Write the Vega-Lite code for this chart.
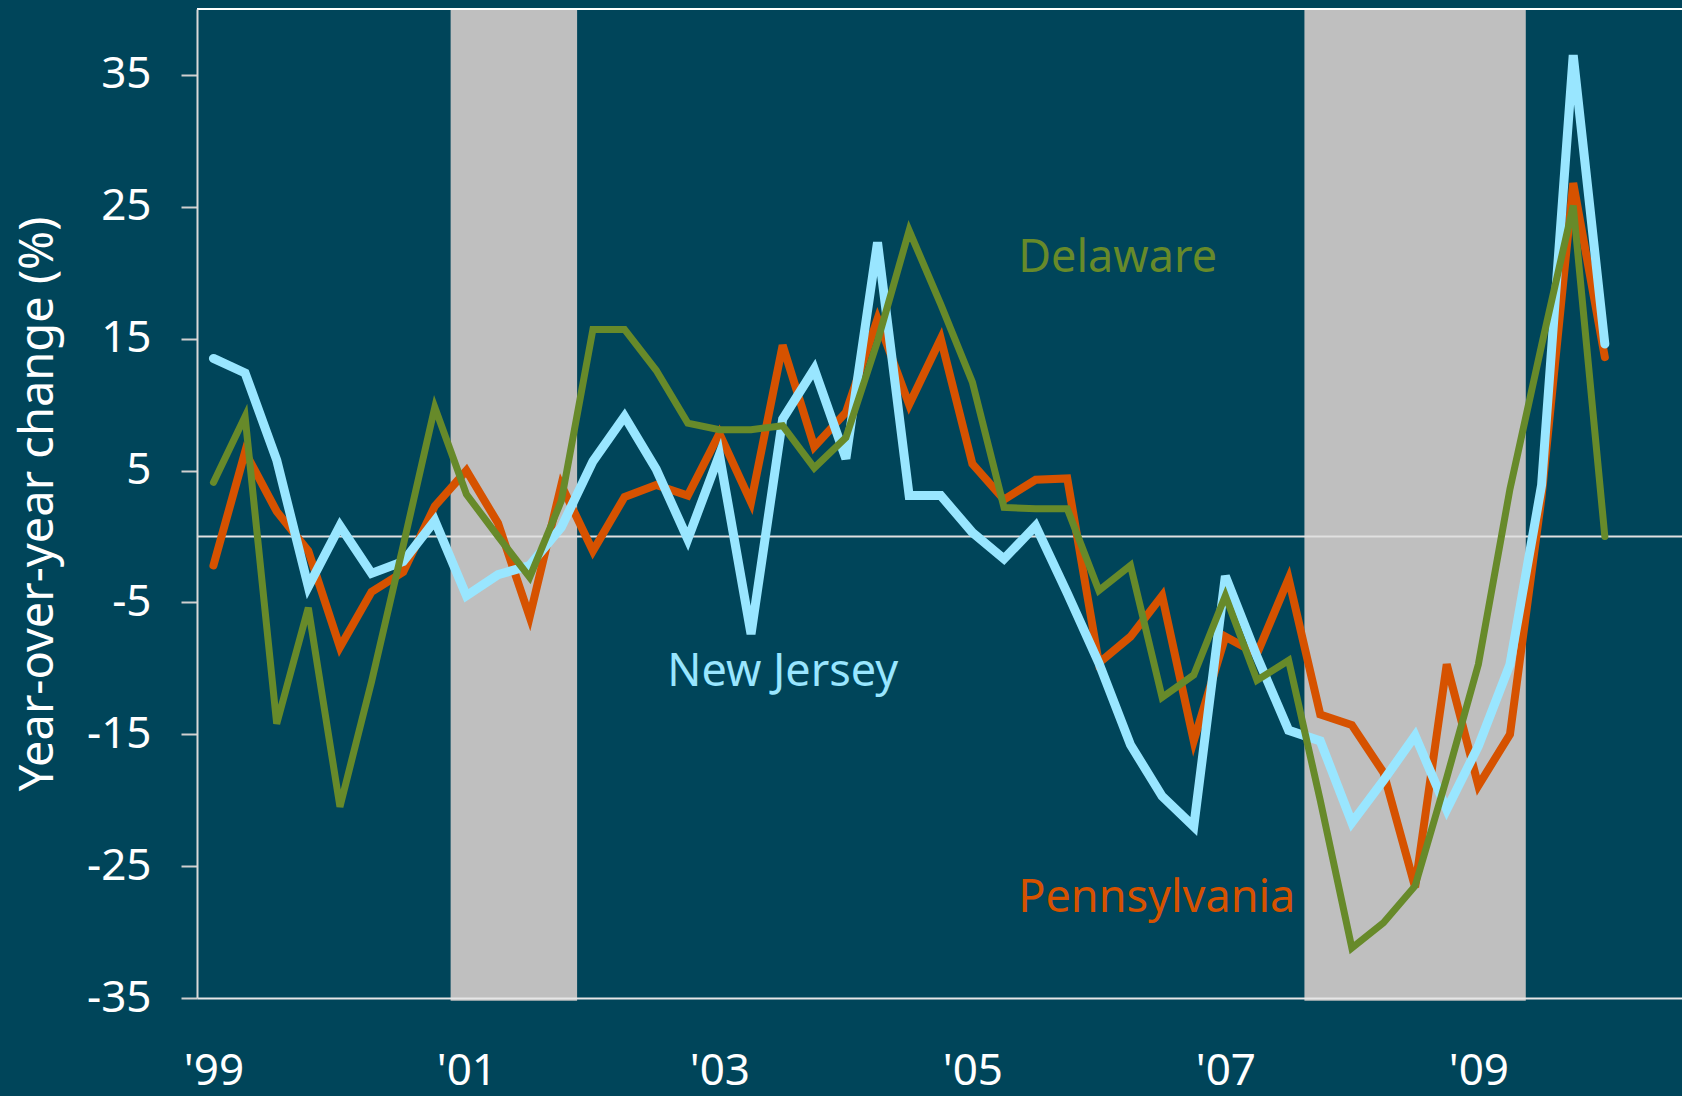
{
  "$schema": "https://vega.github.io/schema/vega-lite/v6.json",
  "autosize": {"type": "none"},
  "padding": {"left": 197, "top": 9, "right": 0, "bottom": 98},
  "width": 1485,
  "height": 989,
  "background": "#00455A",
  "config": {"view": {"stroke": null}, "font": "Noto Sans"},
  "datasets": {
    "series": [
      {"q": 0, "nj": 13.5, "pa": -2.2, "de": 4.1},
      {"q": 1, "nj": 12.4, "pa": 6.4, "de": 9.1},
      {"q": 2, "nj": 5.8, "pa": 1.9, "de": -14.2},
      {"q": 3, "nj": -3.8, "pa": -1.1, "de": -5.4},
      {"q": 4, "nj": 0.8, "pa": -8.4, "de": -20.5},
      {"q": 5, "nj": -2.8, "pa": -4.2, "de": -11.0},
      {"q": 6, "nj": -1.9, "pa": -2.7, "de": -0.7},
      {"q": 7, "nj": 1.2, "pa": 2.3, "de": 9.8},
      {"q": 8, "nj": -4.5, "pa": 5.0, "de": 3.2},
      {"q": 9, "nj": -2.9, "pa": 1.0, "de": 0.0},
      {"q": 10, "nj": -2.2, "pa": -6.1, "de": -3.1},
      {"q": 11, "nj": 0.7, "pa": 3.9, "de": 2.7},
      {"q": 12, "nj": 5.7, "pa": -1.1, "de": 15.7},
      {"q": 13, "nj": 9.1, "pa": 3.0, "de": 15.7},
      {"q": 14, "nj": 5.1, "pa": 3.9, "de": 12.6},
      {"q": 15, "nj": -0.2, "pa": 3.1, "de": 8.6},
      {"q": 16, "nj": 6.2, "pa": 7.8, "de": 8.1},
      {"q": 17, "nj": -7.4, "pa": 2.6, "de": 8.1},
      {"q": 18, "nj": 8.9, "pa": 14.5, "de": 8.4},
      {"q": 19, "nj": 12.7, "pa": 6.8, "de": 5.2},
      {"q": 20, "nj": 5.9, "pa": 9.4, "de": 7.5},
      {"q": 21, "nj": 22.3, "pa": 16.5, "de": 14.8},
      {"q": 22, "nj": 3.1, "pa": 10.0, "de": 23.2},
      {"q": 23, "nj": 3.1, "pa": 15.0, "de": 17.6},
      {"q": 24, "nj": 0.3, "pa": 5.5, "de": 11.7},
      {"q": 25, "nj": -1.7, "pa": 2.8, "de": 2.2},
      {"q": 26, "nj": 0.8, "pa": 4.3, "de": 2.1},
      {"q": 27, "nj": -4.3, "pa": 4.4, "de": 2.1},
      {"q": 28, "nj": -9.6, "pa": -9.6, "de": -4.1},
      {"q": 29, "nj": -15.8, "pa": -7.6, "de": -2.2},
      {"q": 30, "nj": -19.7, "pa": -4.5, "de": -12.2},
      {"q": 31, "nj": -22.0, "pa": -15.5, "de": -10.5},
      {"q": 32, "nj": -3.0, "pa": -7.6, "de": -4.5},
      {"q": 33, "nj": -9.1, "pa": -8.9, "de": -10.9},
      {"q": 34, "nj": -14.7, "pa": -3.2, "de": -9.4},
      {"q": 35, "nj": -15.5, "pa": -13.5, "de": -20.0},
      {"q": 36, "nj": -21.7, "pa": -14.3, "de": -31.2},
      {"q": 37, "nj": -18.5, "pa": -17.9, "de": -29.3},
      {"q": 38, "nj": -15.1, "pa": -26.6, "de": -26.5},
      {"q": 39, "nj": -20.7, "pa": -9.7, "de": -18.3},
      {"q": 40, "nj": -15.9, "pa": -18.9, "de": -9.7},
      {"q": 41, "nj": -9.7, "pa": -15.0, "de": 3.6},
      {"q": 42, "nj": 3.9, "pa": 3.0, "de": 14.5},
      {"q": 43, "nj": 36.5, "pa": 26.8, "de": 25.1},
      {"q": 44, "nj": 14.6, "pa": 13.6, "de": 0.0}
    ],
    "recessions": [
      {"start": 7.5, "end": 11.5},
      {"start": 34.5, "end": 41.5}
    ],
    "labels": [
      {"label": "Delaware", "q": 25.45, "v": 21.15, "state": "de"},
      {"label": "New Jersey", "q": 14.35, "v": -10.3, "state": "nj"},
      {"label": "Pennsylvania", "q": 25.45, "v": -27.45, "state": "pa"}
    ]
  },
  "layer": [
    {
      "data": {"name": "recessions"},
      "mark": {"type": "rect", "color": "#BFBFBF"},
      "encoding": {
        "x": {
          "field": "start", "type": "quantitative",
          "scale": {"domain": [-0.52, 46.44], "nice": false, "zero": false},
          "axis": {
            "values": [0, 8, 16, 24, 32, 40],
            "labelExpr": "[\"'99\",\"'01\",\"'03\",\"'05\",\"'07\",\"'09\"][datum.value/8]",
            "title": null, "ticks": false, "tickSize": 0, "labelPadding": 51,
            "labelFont": "Noto Sans", "labelFontSize": 44, "labelColor": "#FFFFFF",
            "domainColor": "#E6E6E6", "domainWidth": 2, "grid": false, "zindex": 1,
            "labelFlush": false, "labelOverlap": false
          }
        },
        "x2": {"field": "end"},
        "y": {
          "datum": 40, "type": "quantitative",
          "scale": {"domain": [-35, 40], "nice": false, "zero": false},
          "axis": {
            "values": [-35, -25, -15, -5, 5, 15, 25, 35],
            "labelExpr": "'' + datum.value",
            "title": "Year-over-year change (%)",
            "titleColor": "#FFFFFF", "titleFont": "Noto Sans", "titleFontSize": 47, "titleFontWeight": "normal",
            "titleAngle": -90, "titleX": -145, "titleY": 494.5, "titleAlign": "center", "titleBaseline": "alphabetic",
            "labelColor": "#FFFFFF", "labelFont": "Noto Sans", "labelFontSize": 44, "labelPadding": 30,
            "tickSize": 16, "tickColor": "#D0D0D0", "tickWidth": 2,
            "domainColor": "#D9D9D9", "domainWidth": 2, "grid": false, "zindex": 1,
            "labelFlush": false, "labelOverlap": false
          }
        },
        "y2": {"datum": -35.2}
      }
    },
    {
      "data": {"values": [{"level": 0}]},
      "mark": {"type": "rule", "color": "#E0E0E0", "strokeWidth": 2},
      "encoding": {"y": {"field": "level", "type": "quantitative"}}
    },
    {
      "data": {"values": [{"level": 40}]},
      "mark": {"type": "rule", "color": "#FFFFFF", "strokeWidth": 2},
      "encoding": {"y": {"field": "level", "type": "quantitative"}}
    },
    {
      "data": {"name": "series"},
      "mark": {"type": "line", "color": "#D65200", "strokeWidth": 8, "strokeCap": "round"},
      "encoding": {
        "x": {"field": "q", "type": "quantitative"},
        "y": {"field": "pa", "type": "quantitative"}
      }
    },
    {
      "data": {"name": "series"},
      "mark": {"type": "line", "color": "#99E6FF", "strokeWidth": 9, "strokeCap": "round"},
      "encoding": {
        "x": {"field": "q", "type": "quantitative"},
        "y": {"field": "nj", "type": "quantitative"}
      }
    },
    {
      "data": {"name": "series"},
      "mark": {"type": "line", "color": "#678A2A", "strokeWidth": 7, "strokeCap": "round"},
      "encoding": {
        "x": {"field": "q", "type": "quantitative"},
        "y": {"field": "de", "type": "quantitative"}
      }
    },
    {
      "data": {"name": "labels"},
      "mark": {"type": "text", "align": "left", "baseline": "middle", "font": "Noto Sans", "fontSize": 45},
      "encoding": {
        "x": {"field": "q", "type": "quantitative"},
        "y": {"field": "v", "type": "quantitative"},
        "text": {"field": "label"},
        "color": {"field": "state", "type": "nominal", "scale": {"domain": ["de", "nj", "pa"], "range": ["#678A2A", "#99E6FF", "#D65200"]}, "legend": null}
      }
    }
  ]
}
